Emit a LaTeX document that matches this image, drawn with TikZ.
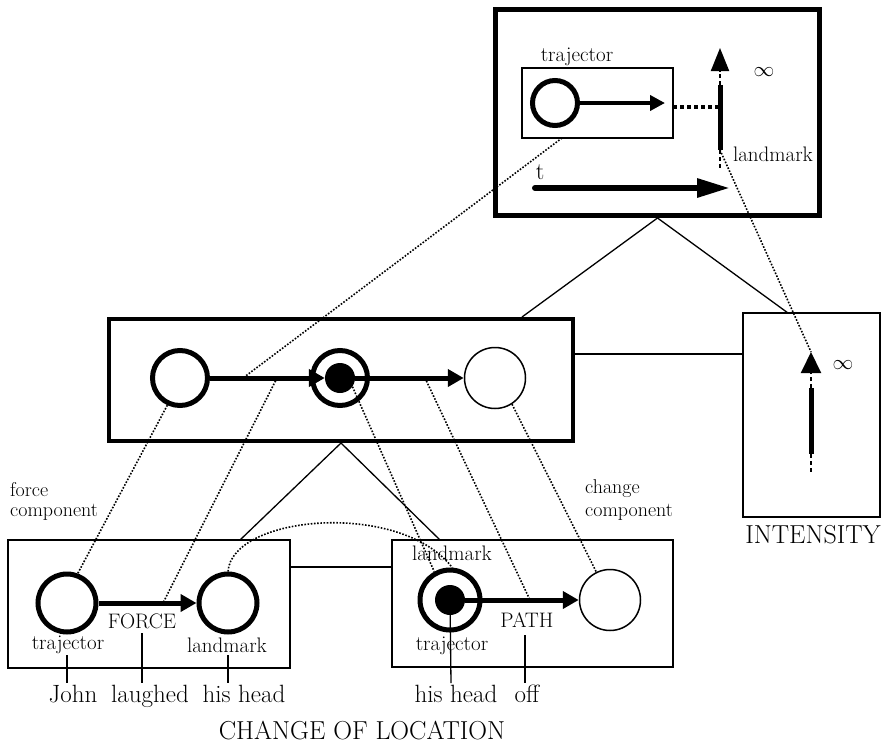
\documentclass[tikz,border=0pt]{standalone}
\usepackage{fontspec}
\usetikzlibrary{arrows.meta}
\begin{document}
\begin{tikzpicture}[x=1pt,y=-1pt,
  boxline/.style={draw, inner sep=0pt, line width=#1},
  ring/.style={circle, draw, line width=5pt, minimum size=#1, inner sep=0pt},
  thinring/.style={circle, draw, line width=1.5pt, minimum size=61pt, inner sep=0pt},
  dot/.style={circle, fill, minimum size=30pt, inner sep=0pt},
  fatarrow/.style={line width=5pt, -{Triangle[length=16pt,width=17pt]}},
  dotline/.style={line width=1.6pt, dash pattern=on 1.6pt off 1.6pt},
  dashline/.style={line width=2pt, dash pattern=on 4pt off 3pt},
  plain/.style={line width=1.3pt},
  lbl/.style={font=\fontsize{21}{24}\selectfont, inner sep=0pt},
  word/.style={font=\fontsize{25}{28}\selectfont, inner sep=0pt, anchor=base},
  big/.style={font=\fontsize{26}{28}\selectfont, inner sep=0pt},
  comp/.style={font=\fontsize{20}{22}\selectfont, inner sep=0pt, anchor=base west}
]
\useasboundingbox (0,0) rectangle (884,747);

% ---------- top box ----------
\node[boxline=5pt, minimum width=324pt, minimum height=206pt] (top) at (657.5,112.5) {};
\node[boxline=1.5pt, minimum width=151pt, minimum height=70pt] (tin) at (597.5,103) {};
\node[lbl] (ttraj) at (577,57) {trajector};
\node[ring=45pt] (tc) at (555,103) {};
\coordinate (tcTip) at (665,103);
\draw[line width=4pt, -{Triangle[length=15pt,width=15pt]}] (tc.east) -- (tcTip);
\coordinate (hdA) at (673,107);
\coordinate (hdB) at (718,107);
\draw[line width=3.3pt, dash pattern=on 4pt off 3pt] (hdA) -- (hdB);
\coordinate (lbTip) at (720,48);
\coordinate (lbT) at (720,85);
\coordinate (lbB) at (720,150);
\coordinate (lbEnd) at (720,170);
\draw[dashline, -{Triangle[length=23pt,width=18pt]}] (lbT) -- (lbTip);
\draw[line width=5pt] (lbT) -- (lbB);
\draw[dashline] (lbB) -- (lbEnd);
\node[font=\fontsize{20}{22}\selectfont, inner sep=0pt] (tinf) at (764,72) {$\infty$};
\node[lbl] (tland) at (773,154) {landmark};
\node[font=\fontsize{24}{26}\selectfont, inner sep=0pt] (tt) at (540,172) {t};
\coordinate (tA) at (535,188);
\coordinate (tB) at (730,188);
\draw[line width=6pt, line cap=round, -{Triangle[length=33pt,width=18pt]}] (tA) -- (tB);

% ---------- middle box ----------
\node[boxline=4pt, minimum width=464pt, minimum height=122pt] (mid) at (341,380) {};
\node[ring=55pt] (mL) at (180,378) {};
\node[ring=55pt] (mM) at (340,378) {};
\node[dot] (mD) at (340,378) {};
\node[thinring] (mR) at (495,378) {};
\draw[fatarrow] (mL.east) -- (mD.west);
\draw[fatarrow] (mD.east) -- (mR.west);

% ---------- intensity box ----------
\node[boxline=1.5pt, minimum width=137pt, minimum height=204pt] (int) at (811.5,415) {};
\node[big] (intl) at (813,535) {INTENSITY};
\coordinate (iTip) at (811,352);
\coordinate (iT) at (811,388);
\coordinate (iB) at (811,454);
\coordinate (iEnd) at (811,473);
\draw[dashline, -{Triangle[length=21pt,width=20pt]}] (iT) -- (iTip);
\draw[line width=5pt] (iT) -- (iB);
\draw[dashline] (iB) -- (iEnd);
\node[font=\fontsize{20}{22}\selectfont, inner sep=0pt] (iinf) at (843,365) {$\infty$};

% ---------- bottom-left box ----------
\node[boxline=1.5pt, minimum width=282pt, minimum height=128pt] (bl) at (149,604) {};
\node[ring=58pt] (bL) at (67,603) {};
\node[ring=58pt] (bR) at (228,603) {};
\draw[fatarrow] (bL.east) -- (bR.west);
\node[lbl] (force) at (142,621) {FORCE};
\node[lbl] (btraj) at (68,645) {trajector};
\node[lbl] (bland) at (227,645) {landmark};
\node[word] (john) at (73,702) {John};
\node[word] (laughed) at (150,702) {laughed};
\node[word] (hishead1) at (244,702) {his head};
\coordinate (j1) at (67,655);  \coordinate (j2) at (67,683);
\coordinate (l1) at (142,633); \coordinate (l2) at (142,683);
\coordinate (h1) at (228,655); \coordinate (h2) at (228,683);
\draw[plain] (j1) -- (j2);
\draw[plain] (l1) -- (l2);
\draw[plain] (h1) -- (h2);
\node[comp] (fcomp1) at (10,496) {force};
\node[comp] (fcomp2) at (10,516) {component};

% ---------- bottom-right box ----------
\node[boxline=1.5pt, minimum width=281pt, minimum height=127pt] (br) at (532.5,603.5) {};
\node[ring=60pt] (cM) at (450,600) {};
\node[dot] (cD) at (450,600) {};
\node[thinring] (cR) at (610,600) {};
\draw[fatarrow] (cD.east) -- (cR.west);
\node[lbl] (cland) at (452,553) {landmark};
\node[lbl] (path) at (527,620) {PATH};
\node[lbl] (ctraj) at (452,646) {trajector};
\node[word] (hishead2) at (456,702) {his head};
\node[word] (off) at (527,702) {off};
\coordinate (o1) at (525,635); \coordinate (o2) at (525,683);
\coordinate (hh2) at (451,683);
\draw[plain] (cD.center) -- (hh2);
\draw[plain] (o1) -- (o2);
\node[comp] (ccomp1) at (585,493) {change};
\node[comp] (ccomp2) at (585,516) {component};

\node[big] (col) at (362,731) {CHANGE OF LOCATION};

% ---------- solid connectors ----------
\coordinate (m1) at (522,317);
\coordinate (i1) at (788,313);
\draw[plain] (top.south) -- (m1);
\draw[plain] (top.south) -- (i1);
\coordinate (mi) at (575,354);
\draw[plain] (mi) -- (mi -| int.west);
\coordinate (b1) at (240,540);
\coordinate (b2) at (440,540);
\draw[plain] (mid.south) -- (b1);
\draw[plain] (mid.south) -- (b2);
\coordinate (bb) at (290,567);
\draw[plain] (bb) -- (bb -| br.west);

% ---------- dotted correspondences ----------
\coordinate (tinB) at (562,138);
\coordinate (a1) at (243,378);
\draw[dotline] (tinB) -- (a1);
\draw[dotline] (lbB) -- (iTip);
\draw[dotline] (mL.-115) -- (bL.70);
\coordinate (a1b) at (277,378);
\coordinate (ba) at (163,603);
\draw[dotline] (a1b) -- (ba);
\draw[dotline] (mD.-35) -- (cM.119);
\coordinate (a2) at (425,378);
\coordinate (ca) at (530,600);
\draw[dotline] (a2) -- (ca);
\draw[dotline] (mR.-57) -- (cR.116);
\draw[dotline] (bR.90) .. controls (232,515) and (400,500) .. (cM.86);
\end{tikzpicture}
\end{document}
